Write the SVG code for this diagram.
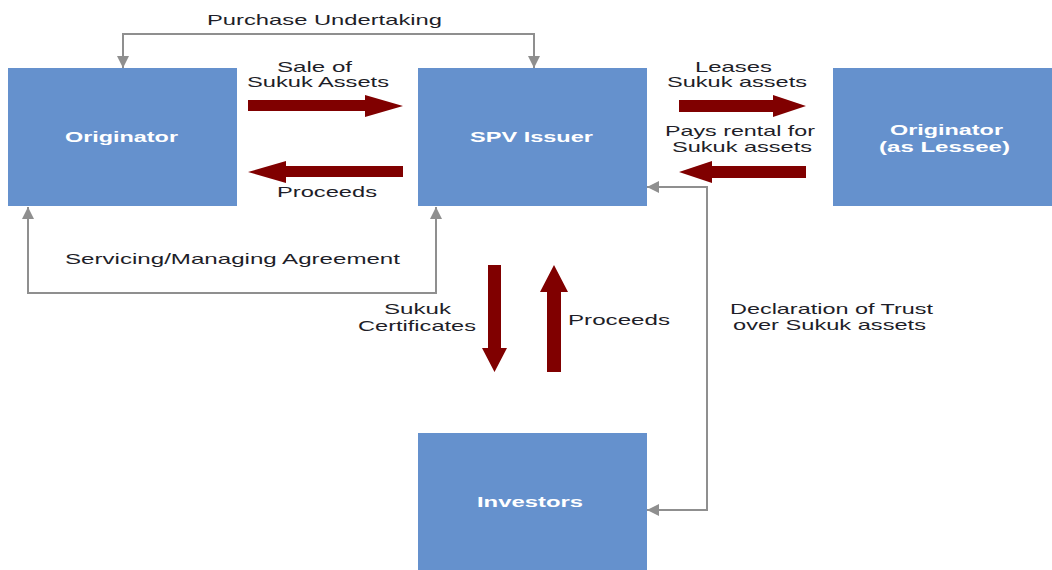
<svg xmlns="http://www.w3.org/2000/svg" width="1052" height="570" viewBox="0 0 1052 570">
<defs>
<style>
.box{fill:#6591cd}
.nl{font-family:"Liberation Sans",Arial,sans-serif;font-size:15px;font-weight:bold;fill:#ffffff}
.lb{font-family:"Liberation Sans",Arial,sans-serif;font-size:15px;fill:#1e1e28}
.gc{fill:none;stroke:#8f8f8f;stroke-width:2}
.ra{fill:#800000}
</style>
<marker id="ga" viewBox="0 0 12 12" refX="12" refY="6" markerWidth="12" markerHeight="13" markerUnits="userSpaceOnUse" orient="auto-start-reverse">
<path d="M0,0 L12,6 L0,12 Z" fill="#8f8f8f"/>
</marker>
</defs>
<rect width="1052" height="570" fill="#ffffff"/>
<g id="originator"><rect class="box" x="8" y="68" width="229" height="138"/><text class="nl" x="65" y="142" textLength="113" lengthAdjust="spacingAndGlyphs">Originator</text></g>
<g id="spv"><rect class="box" x="418" y="68" width="229" height="138"/><text class="nl" x="470" y="142" textLength="123" lengthAdjust="spacingAndGlyphs">SPV Issuer</text></g>
<g id="lessee"><rect class="box" x="833" y="68" width="219" height="138"/><text class="nl" x="890" y="135" textLength="113" lengthAdjust="spacingAndGlyphs">Originator</text><text class="nl" x="879" y="152" textLength="131" lengthAdjust="spacingAndGlyphs">(as Lessee)</text></g>
<g id="investors"><rect class="box" x="418" y="433" width="229" height="137"/><text class="nl" x="477" y="507" textLength="106" lengthAdjust="spacingAndGlyphs">Investors</text></g>
<g id="connectors">
<path class="gc" d="M123,68 V34 H534 V68" marker-start="url(#ga)" marker-end="url(#ga)"/>
<path class="gc" d="M28,207 V293 H436 V207" marker-start="url(#ga)" marker-end="url(#ga)"/>
<path class="gc" d="M647,187 H707 V510 H647" marker-start="url(#ga)" marker-end="url(#ga)"/>
<path class="ra" d="M248,100 H365 V95 L403,106 L365,117 V111 H248 Z"/>
<path class="ra" d="M403,166 H286 V161 L248,172 L286,183 V177 H403 Z"/>
<path class="ra" d="M679,100 H773 V95 L806,106 L773,117 V112 H679 Z"/>
<path class="ra" d="M806,166 H712 V161 L679,172 L712,183 V178 H806 Z"/>
<path class="ra" d="M488,265 H501 V348 H507 L494.5,372 L482,348 H488 Z"/>
<path class="ra" d="M547,372 H561 V292 H568 L554,265 L540,292 H547 Z"/>
</g>
<g id="labels">
<text class="lb" x="207" y="25" textLength="235" lengthAdjust="spacingAndGlyphs">Purchase Undertaking</text>
<text class="lb" x="277" y="72" textLength="75" lengthAdjust="spacingAndGlyphs">Sale of</text>
<text class="lb" x="247" y="87" textLength="142" lengthAdjust="spacingAndGlyphs">Sukuk Assets</text>
<text class="lb" x="277" y="197" textLength="100" lengthAdjust="spacingAndGlyphs">Proceeds</text>
<text class="lb" x="695" y="72" textLength="77" lengthAdjust="spacingAndGlyphs">Leases</text>
<text class="lb" x="667" y="87" textLength="140" lengthAdjust="spacingAndGlyphs">Sukuk assets</text>
<text class="lb" x="665" y="136" textLength="150" lengthAdjust="spacingAndGlyphs">Pays rental for</text>
<text class="lb" x="672" y="152" textLength="140" lengthAdjust="spacingAndGlyphs">Sukuk assets</text>
<text class="lb" x="65" y="264" textLength="335" lengthAdjust="spacingAndGlyphs">Servicing/Managing Agreement</text>
<text class="lb" x="384" y="314" textLength="67" lengthAdjust="spacingAndGlyphs">Sukuk</text>
<text class="lb" x="358" y="331" textLength="118" lengthAdjust="spacingAndGlyphs">Certificates</text>
<text class="lb" x="568" y="325" textLength="102" lengthAdjust="spacingAndGlyphs">Proceeds</text>
<text class="lb" x="730" y="314" textLength="203" lengthAdjust="spacingAndGlyphs">Declaration of Trust</text>
<text class="lb" x="733" y="330" textLength="193" lengthAdjust="spacingAndGlyphs">over Sukuk assets</text>
</g>
</svg>
